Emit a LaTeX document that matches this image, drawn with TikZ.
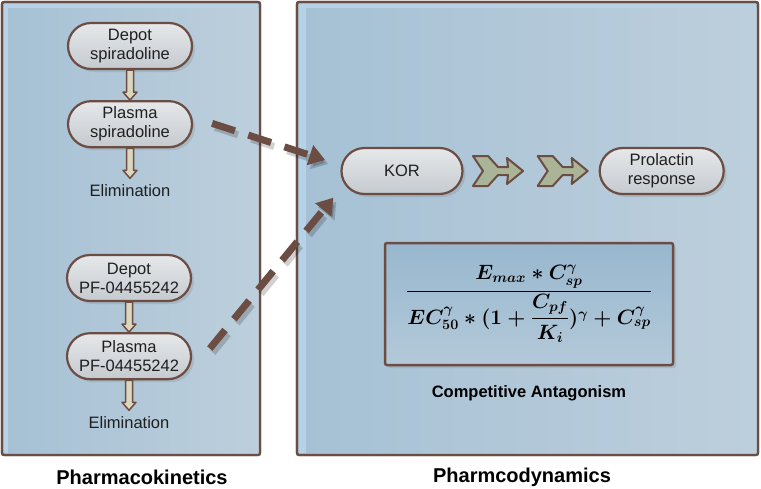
\documentclass[tikz,border=0pt]{standalone}
\usepackage[no-math]{fontspec}
\setmainfont{Liberation Sans}
\usepackage{amsmath}
\usetikzlibrary{positioning}
\usetikzlibrary{calc}
\usetikzlibrary{shadows}
\usetikzlibrary{arrows.meta}

\definecolor{panelbrown}{HTML}{6B4D44}
\definecolor{panelblue}{HTML}{A6C1D5}
\definecolor{panellight}{HTML}{BDCFDC}
\definecolor{panelrim}{HTML}{B6D2E6}
\definecolor{nodetop}{HTML}{E6E8EA}
\definecolor{nodebot}{HTML}{C5CACF}
\definecolor{flowfill}{HTML}{DAD7BE}
\definecolor{chevfill}{HTML}{A9B596}
\definecolor{eqtop}{HTML}{98B7CE}
\definecolor{eqbot}{HTML}{B3C9D9}

\newsavebox{\emaxbox}

\tikzset{
	panel/.style={draw=panelbrown, line width=2.2pt, fill=panelrim, rounded corners=2pt, outer sep=0pt},
	panelcore/.style={left color=panelblue, right color=panellight},
	pknode/.style={draw=panelbrown, line width=2.2pt, rounded corners=23pt, minimum width=124pt, minimum height=46pt,
		top color=nodetop, bottom color=nodebot, align=center, text=black!88, font=\fontsize{16.5}{19}\selectfont,
		drop shadow={shadow xshift=3pt, shadow yshift=-3pt, opacity=0.25}},
	elim/.style={inner sep=6pt, text=black!88, font=\fontsize{16.5}{19}\selectfont},
	flowline/.style={draw=panelbrown, fill=flowfill, line width=1.5pt, line join=round},
	chevron/.style={draw=panelbrown, fill=chevfill, line width=2pt, line join=round},
	chevshadow/.style={fill=black, opacity=0.2},
	eqbox/.style={draw=panelbrown, line width=2.5pt, top color=eqtop, bottom color=eqbot, rounded corners=2pt,
		minimum width=288pt, minimum height=122pt,
		drop shadow={shadow xshift=3pt, shadow yshift=-3pt, opacity=0.25}},
	caption/.style={inner sep=0pt, font=\fontsize{16.5}{19}\selectfont\bfseries},
	paneltitle/.style={inner sep=0pt, font=\fontsize{20}{24}\selectfont\bfseries},
	pdbase/.style={line width=7pt, dash pattern=on 24pt off 14pt, -{Triangle[length=16pt,width=20pt]}},
	pdlink/.style={pdbase, draw=panelbrown},
	pdshadow/.style={pdbase, draw=black, opacity=0.18}
}

% hollow vertical arrow between two anchors
\newcommand{\flowarrow}[2]{%
	\draw[flowline] ($(#1)+(-3.5,0)$) -- ($(#2)+(-3.5,-8)$) -- ($(#2)+(-7,-8)$) -- (#2)
		-- ($(#2)+(7,-8)$) -- ($(#2)+(3.5,-8)$) -- ($(#1)+(3.5,0)$) -- cycle;}

% fletched arrow centred on a point
\newcommand{\chevronat}[2]{%
	\path[#2] (#1) ++(-25,-15) -- ++(15,0) -- ++(10,11) -- ++(10,0)
		-- ++(-1,-9) -- ++(16,13) -- ++(-16,13) -- ++(1,-9) -- ++(-10,0) -- ++(-10,11) -- ++(-15,0) -- ++(10,-15) -- cycle;}

\begin{document}
\sbox{\emaxbox}{\fontsize{20}{24}\selectfont\boldmath
	$\displaystyle\frac{E_{max} * C_{sp}^{\gamma}}{EC_{50}^{\gamma} * (1+\dfrac{C_{pf}}{K_i})^{\gamma} + C_{sp}^{\gamma}}$}%
\begin{tikzpicture}[x=1pt, y=-1pt]
	\useasboundingbox[fill=white] (0,0) rectangle (761,488);

	% panels
	\node[panel, minimum width=258pt, minimum height=453pt](pkPanel) at (131,228.5){};
	\fill[panelcore] (8,8) rectangle (pkPanel.south east);
	\draw[panelbrown, line width=2.2pt, rounded corners=2pt] (pkPanel.north west) rectangle (pkPanel.south east);
	\node[panel, minimum width=461pt, minimum height=453pt](pdPanel) at (527.5,228.5){};
	\fill[panelcore] (306,8) rectangle (pdPanel.south east);
	\draw[panelbrown, line width=2.2pt, rounded corners=2pt] (pdPanel.north west) rectangle (pdPanel.south east);
	\node[paneltitle](pkTitle) at (142,477){Pharmacokinetics};
	\node[paneltitle](pdTitle) at (522,477){Pharmcodynamics};

	% pharmacokinetics
	\node[pknode](depotS) at (130,46){Depot\\spiradoline};
	\node[pknode, below=30pt of depotS](plasmaS){Plasma\\spiradoline};
	\node[elim, below=30pt of plasmaS](elimS){Elimination};
	\node[pknode](depotP) at (129,278){Depot\\PF-04455242};
	\node[pknode, below=30pt of depotP](plasmaP){Plasma\\PF-04455242};
	\node[elim, below=30pt of plasmaP](elimP){Elimination};
	\flowarrow{depotS.south}{plasmaS.north}
	\flowarrow{plasmaS.south}{elimS.north}
	\flowarrow{depotP.south}{plasmaP.north}
	\flowarrow{plasmaP.south}{elimP.north}

	% pharmacodynamics
	\node[pknode, minimum width=121pt](kor) at (402,171){KOR};
	\node[pknode, right=135pt of kor](prolactin){Prolactin\\response};
	\coordinate (chevA) at ($(kor.east)!0.255!(prolactin.west)$);
	\coordinate (chevB) at ($(kor.east)!0.734!(prolactin.west)$);
	\begin{scope}[shift={(3,3)}]
		\chevronat{chevA}{chevshadow}
		\chevronat{chevB}{chevshadow}
	\end{scope}
	\chevronat{chevA}{chevron}
	\chevronat{chevB}{chevron}
	\node[eqbox](emax) at (529,304){\usebox{\emaxbox}};
	\node[caption, below=19pt of emax](antag){Competitive Antagonism};

	% links to the receptor
	\begin{scope}[transform canvas={xshift=3pt, yshift=-4pt}]
		\draw[pdshadow, shorten <=20pt, shorten >=16pt] ([yshift=7pt]plasmaS.east) -- ([yshift=6pt]kor.west);
		\draw[pdshadow, shorten <=28pt, shorten >=11pt] ([yshift=-14pt]plasmaP.east) -- ([yshift=6pt]kor.south west);
	\end{scope}
	\draw[pdlink, shorten <=20pt, shorten >=16pt] ([yshift=7pt]plasmaS.east) -- ([yshift=6pt]kor.west);
	\draw[pdlink, shorten <=28pt, shorten >=11pt] ([yshift=-14pt]plasmaP.east) -- ([yshift=6pt]kor.south west);
\end{tikzpicture}
\end{document}
